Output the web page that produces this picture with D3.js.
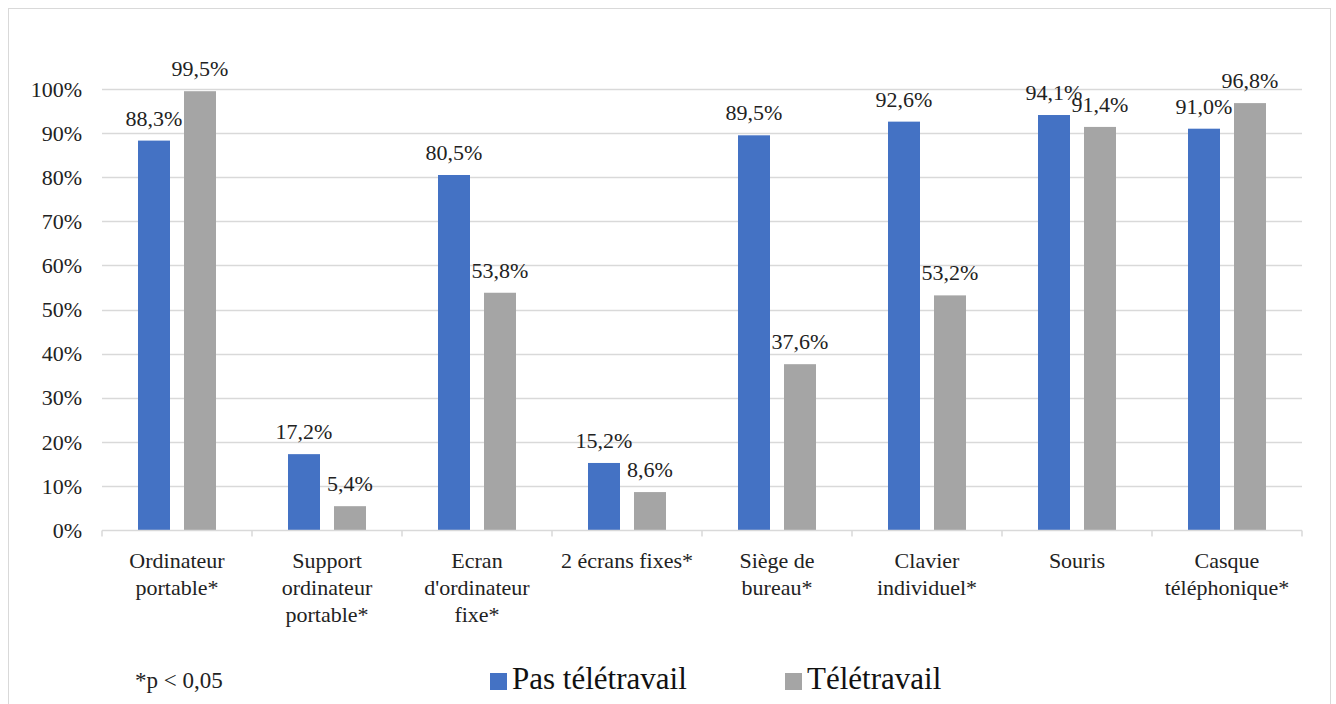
<!DOCTYPE html>
<html>
<head>
<meta charset="utf-8">
<script src="https://cdn.jsdelivr.net/npm/d3@7"></script>
<style>
  body { margin: 0; background: #fff; }
</style>
</head>
<body>
<div id="chart"></div>
<script>
// Categories (multi-line labels split on "|")
const categories = [
  'Ordinateur|portable*',
  'Support|ordinateur|portable*',
  'Ecran|d\'ordinateur|fixe*',
  '2 écrans fixes*',
  'Siège de|bureau*',
  'Clavier|individuel*',
  'Souris',
  'Casque|téléphonique*'
];
const seriesNames = ['Pas télétravail', 'Télétravail'];
const pasTeletravail = [88.3, 17.2, 80.5, 15.2, 89.5, 92.6, 94.1, 91.0];
const teletravail = [99.5, 5.4, 53.8, 8.6, 37.6, 53.2, 91.4, 96.8];
const yTicks = [0, 10, 20, 30, 40, 50, 60, 70, 80, 90, 100];
const colors = ['#4472C4', '#A5A5A5'];

const width = 1336, height = 704;
const plot = { left: 102, right: 1302, top: 89, bottom: 530 };
const serif = '"Liberation Serif", "Times New Roman", Times, "DejaVu Serif", serif';

const svg = d3.select('#chart')
  .append('svg')
  .attr('width', width)
  .attr('height', height)
  .style('font-family', serif);

// Outer frame
svg.append('rect')
  .attr('x', 8.5).attr('y', 8.5)
  .attr('width', 1322).attr('height', 720)
  .attr('fill', 'none')
  .attr('stroke', '#d9d9d9');

const x0 = d3.scaleBand()
  .domain(categories)
  .range([plot.left, plot.right]);

// group of 78px inside a 150px band: bars of 32 with 14 gap
const x1 = d3.scaleBand()
  .domain(seriesNames)
  .range([36, 114])
  .paddingInner(14 / 46);

const y = d3.scaleLinear()
  .domain([0, 100])
  .range([plot.bottom, plot.top]);

// Gridlines
svg.append('g')
  .selectAll('line')
  .data(yTicks.filter(d => d > 0))
  .enter()
  .append('line')
  .attr('x1', plot.left)
  .attr('x2', plot.right)
  .attr('y1', d => Math.round(y(d)) + 0.5)
  .attr('y2', d => Math.round(y(d)) + 0.5)
  .attr('stroke', '#d9d9d9')
  .attr('stroke-width', 1.5);

// Y axis labels
svg.append('g')
  .selectAll('text')
  .data(yTicks)
  .enter()
  .append('text')
  .attr('x', 82)
  .attr('y', d => y(d))
  .attr('dy', '0.35em')
  .attr('text-anchor', 'end')
  .attr('fill', '#222')
  .style('font-size', '22px')
  .text(d => d + '%');

// Bars
const series = [pasTeletravail, teletravail];
const groups = svg.append('g')
  .selectAll('g')
  .data(categories)
  .enter()
  .append('g')
  .attr('transform', d => `translate(${x0(d)},0)`);

groups.each(function(cat, i) {
  const g = d3.select(this);
  seriesNames.forEach((s, j) => {
    const v = series[j][i];
    g.append('rect')
      .attr('x', x1(s))
      .attr('y', y(v))
      .attr('width', x1.bandwidth())
      .attr('height', y(0) - y(v))
      .attr('fill', colors[j]);
    g.append('text')
      .attr('x', x1(s) + x1.bandwidth() / 2)
      .attr('y', y(v) - 15)
      .attr('text-anchor', 'middle')
      .attr('fill', '#222')
      .style('font-size', '22px')
      .text(v.toFixed(1).replace('.', ',') + '%');
  });
});

// X axis line with ticks at band edges
const xg = svg.append('g')
  .attr('transform', `translate(0, ${plot.bottom + 0.5})`);
xg.append('line')
  .attr('x1', plot.left).attr('x2', plot.right)
  .attr('stroke', '#d9d9d9').attr('stroke-width', 1.5);
xg.selectAll('.edge')
  .data(d3.range(categories.length + 1))
  .enter()
  .append('line')
  .attr('x1', i => plot.left + i * x0.bandwidth())
  .attr('x2', i => plot.left + i * x0.bandwidth())
  .attr('y1', 0).attr('y2', 6)
  .attr('stroke', '#d9d9d9').attr('stroke-width', 1.5);

// Category labels
svg.append('g')
  .selectAll('text')
  .data(categories)
  .enter()
  .append('text')
  .attr('x', d => x0(d) + x0.bandwidth() / 2)
  .attr('y', 568)
  .attr('text-anchor', 'middle')
  .attr('fill', '#222')
  .style('font-size', '22px')
  .each(function(d) {
    const t = d3.select(this);
    d.split('|').forEach((l, k) => {
      t.append('tspan')
        .attr('x', t.attr('x'))
        .attr('dy', k === 0 ? 0 : 27)
        .text(l);
    });
  });

// Footnote
svg.append('text')
  .attr('x', 135)
  .attr('y', 688)
  .attr('fill', '#222')
  .style('font-size', '23px')
  .text('*p < 0,05');

// Legend
const legendX = [490, 785];
seriesNames.forEach((s, j) => {
  svg.append('rect')
    .attr('x', legendX[j])
    .attr('y', 673)
    .attr('width', 17)
    .attr('height', 17)
    .attr('fill', colors[j]);
  svg.append('text')
    .attr('x', legendX[j] + 22)
    .attr('y', 689)
    .attr('fill', '#111')
    .style('font-size', '31px')
    .text(s);
});
</script>
</body>
</html>
